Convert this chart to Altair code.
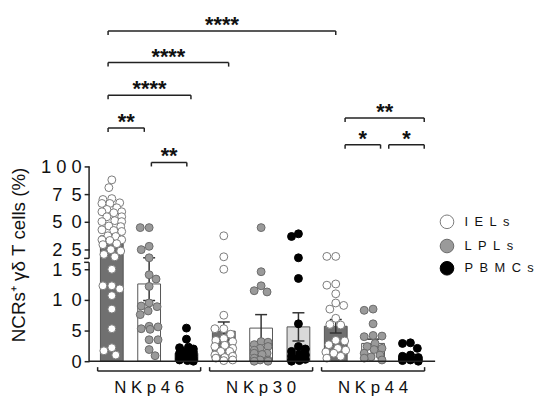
import altair as alt
import pandas as pd

# ---------------- data (percent of NCR+ gamma-delta T cells) ----------------
markers = ["NKp46", "NKp30", "NKp44"]
cells = ["IELs", "LPLs", "PBMCs"]

nkp46_iel = [88, 81, 71.1, 70.3, 66.7, 67.3, 66.7, 62.8, 61.3, 59.2, 58.3, 59.2, 54.7, 54.7,
             50.3, 51.2, 50.3, 46.4, 45.8, 42.9, 41.4, 42.3, 37.5, 36.9, 33.9, 33.3, 33.9,
             29.5, 30.4, 25, 24.2, 22.5, 21.3, 15, 12.3, 12.3, 11.8, 10.7, 8.5, 5.3, 2.2, 1.7, 1.0]
nkp46_lpl = [44.9, 44.9, 28, 25, 20.8, 14.1, 13.4, 12.2, 9.5, 9.0, 8.9, 8.2, 7.6, 5.7, 5.6,
             5.3, 5.2, 3.5, 3.5, 1.9, 0.9]
nkp46_pbmc = [5.4, 3.6, 2.3, 2.2, 2.0, 1.8, 1.6, 1.5, 1.3, 1.2, 1.0, 0.9, 0.8, 0.6, 0.5, 0.4,
              0.3, 0.2, 0.1, 0.0]
nkp30_iel = [37.5, 21.3, 15, 7.5, 5.3, 5.3, 4.4, 3.7, 3.4, 3.2, 2.6, 2.4, 2.1, 1.6, 1.6, 1.0,
             0.8, 0.6, 0.5, 0.2, 0.1]
nkp30_lpl = [44.9, 14.6, 12.3, 11.5, 11.3, 3.2, 3.1, 2.7, 2.4, 2.1, 1.8, 1.3, 1.3, 1.1, 0.5,
             0.2, 0.2, 0.0, 0.0]
nkp30_pbmc = [39.3, 36.9, 20.8, 13.5, 6.1, 2.4, 2.0, 1.6, 1.2, 1.0, 0.8, 0.5, 0.3, 0.2, 0.1, 0.0]
nkp44_iel = [21.5, 21.5, 12.6, 12.4, 11.0, 9.5, 9.1, 8.5, 7.0, 6.0, 5.9, 3.4, 3.3, 2.7, 2.1,
             1.8, 1.5, 1.3, 0.8, 0.5]
nkp44_lpl = [8.5, 8.3, 6.1, 4.2, 4.1, 4.0, 2.9, 2.4, 2.1, 1.9, 1.3, 1.0, 0.7, 0.5, 0.2]
nkp44_pbmc = [3.0, 2.9, 2.1, 1.0, 0.8, 0.6, 0.5, 0.4, 0.3, 0.2, 0.1, 0.0]

series = [nkp46_iel, nkp46_lpl, nkp46_pbmc, nkp30_iel, nkp30_lpl, nkp30_pbmc,
          nkp44_iel, nkp44_lpl, nkp44_pbmc]
swarm_width = [10, 9, 7, 9, 7, 7, 10, 9, 8]   # max horizontal spread (px) of each dot cloud

bar_mean = [37.5, 12.6, 1.3, 4.9, 5.4, 5.6, 5.7, 2.9, 0.8]
err_low = [35.0, 9.9, 1.0, 3.4, 3.2, 3.3, 4.6, 2.2, 0.5]
err_high = [40.0, 20.8, 1.6, 6.4, 7.6, 7.9, 6.8, 3.6, 1.1]
bar_fill = ["#707070", "white", "#d9d9d9"]
pt_fill = ["white", "#9a9a9a", "black"]
pt_stroke = ["#7a7a7a", "#6a6a6a", "black"]

# significance brackets: start/end position (bar index units), height (%), label
sig_start = [-0.1, -0.1, -0.1, -0.1, 1.06, 6.25, 6.25, 7.42]
sig_end = [6.0, 3.13, 2.12, 0.87, 2.01, 8.37, 7.2, 8.37]
sig_level = [53.87, 48.71, 43.39, 38.06, 32.42, 39.68, 35.32, 35.32]
sig_label = ["****", "****", "****", "**", "**", "**", "*", "*"]

y_ticks = [0, 5, 10, 15, 25, 50, 75, 100]

# ---------------- broken-axis transform ----------------
def disp(v):
    if v <= 15:
        return v
    if v >= 25:
        return 18.2 + (v - 25) * (1.12 / 6.2)
    return 15 + (v - 15) * (2.0 / 6.2)

PX_X, PX_Y = 37.75, 6.2
W, H = 350, 392
X0 = -0.6093
X1 = X0 + W / PX_X
Y1 = (363 - 8) / PX_Y
Y0 = Y1 - H / PX_Y
FONT = "Liberation Sans"

def swarm(vals, max_off=10, dmin=8.2):
    order = sorted(range(len(vals)), key=lambda i: -vals[i])
    placed, offs = [], [0.0] * len(vals)
    cands = [0]
    for k in range(1, max_off + 1):
        cands += [k, -k]
    flip = 1
    for i in order:
        yp = disp(vals[i]) * PX_Y
        best, bestpen = 0, 1e9
        for c in cands:
            c2 = c * flip
            pen = 0.0
            for xo, yo in placed:
                d = ((c2 - xo) ** 2 + (yp - yo) ** 2) ** 0.5
                if d < dmin:
                    pen += dmin - d
            if pen == 0:
                best = c2
                break
            if pen < bestpen - 1e-9:
                bestpen, best = pen, c2
        placed.append((best, yp))
        offs[i] = best
        flip = -flip
    return offs

rows = []
for idx, vals in enumerate(series):
    offs = swarm(vals, max_off=swarm_width[idx])
    for v, o in zip(vals, offs):
        k = idx % 3
        rows.append({"x": idx + o / PX_X, "y": disp(v), "cell": cells[k],
                     "fill": pt_fill[k], "stroke": pt_stroke[k]})
pts = pd.DataFrame(rows)

bars = pd.DataFrame({
    "x": [i - 0.305 for i in range(9)],
    "x2": [i + 0.305 for i in range(9)],
    "y": [0.0] * 9,
    "y2": [disp(m) for m in bar_mean],
    "fill": [bar_fill[i % 3] for i in range(9)],
})
errs = pd.DataFrame({
    "x": list(range(9)),
    "lo": [disp(v) for v in err_low],
    "hi": [disp(v) for v in err_high],
    "cx": [i - 0.16 for i in range(9)],
    "cx2": [i + 0.16 for i in range(9)],
})

# significance bracket geometry
tick_len = 0.65
sig_h = pd.DataFrame({"x": sig_start, "x2": sig_end, "y": sig_level})
sig_v = pd.DataFrame({
    "x": sig_start + sig_end,
    "y": sig_level + sig_level,
    "y2": [l - tick_len for l in sig_level] * 2,
})
sig_t = pd.DataFrame({"x": [(a + b) / 2 for a, b in zip(sig_start, sig_end)],
                      "y": sig_level, "t": sig_label})

# group brackets under axis
grp_c = [1, 4, 7]
gb_y, gb_tick = -1.61, -0.97
grp_h = pd.DataFrame({"x": [c - 1.38 for c in grp_c], "x2": [c + 1.38 for c in grp_c], "y": [gb_y] * 3})
grp_v = pd.DataFrame({"x": [c - 1.38 for c in grp_c] + [c + 1.38 for c in grp_c],
                      "y": [gb_y] * 6, "y2": [gb_tick] * 6})
grp_t = pd.DataFrame({"x": grp_c, "y": [-4.4] * 3, "t": [" ".join(m) for m in markers]})

# legend (drawn with marks, right of the plot)
leg = pd.DataFrame({
    "x": [8.98] * 3, "tx": [9.45] * 3,
    "y": [22.74, 18.79, 15.16],
    "t": [chr(0x2002).join(c) for c in cells],
    "fill": pt_fill, "stroke": pt_stroke,
})

# axis line segments (broken)
axis_seg = pd.DataFrame({"y": [0.0, 16.77], "y2": [16.13, disp(100)]})
brk = pd.DataFrame({"y": [16.13, 16.77]})
base = pd.DataFrame({"y": [0.0]})

xs = alt.Scale(domain=[X0, X1], nice=False, zero=False)
ys = alt.Scale(domain=[Y0, Y1], nice=False, zero=False)

def spaced(v):
    s = str(v)
    gap = " " if len(s) >= 3 else chr(0x2002)
    return gap.join(s)

tick_disp = [disp(v) for v in y_ticks]
label_expr = " : ".join(
    f"abs(datum.value - {d:.4f}) < 0.01 ? '{spaced(v)}'" for d, v in zip(tick_disp, y_ticks)
) + " : ''"

yaxis = alt.Axis(values=tick_disp, labelExpr=label_expr, domain=False, grid=False,
                 tickSize=5, tickWidth=1.5, tickColor="#222", labelFontSize=18.5, labelFont=FONT,
                 labelColor="#111", labelPadding=3, labelLimit=300, title="NCRs⁺ γδ T cells (%)",
                 titleFont=FONT, titleFontSize=19, titleFontWeight="normal", titleColor="#111",
                 titleX=-65, titleY=247, titleAlign="center", titleBaseline="alphabetic",
                 titleAngle=270)

LINE = "#222"

bar_layer = alt.Chart(bars).mark_bar(stroke="#555", strokeWidth=1).encode(
    x=alt.X("x:Q", scale=xs, axis=None), x2="x2:Q",
    y=alt.Y("y:Q", scale=ys, axis=yaxis), y2="y2:Q",
    fill=alt.Fill("fill:N", scale=None),
)
err_v = alt.Chart(errs).mark_rule(color="#333", strokeWidth=1.5).encode(
    x=alt.X("x:Q", scale=xs), y=alt.Y("lo:Q", scale=ys), y2="hi:Q")
err_cap_hi = alt.Chart(errs).mark_rule(color="#333", strokeWidth=1.5).encode(
    x=alt.X("cx:Q", scale=xs), x2="cx2:Q", y=alt.Y("hi:Q", scale=ys))
err_cap_lo = alt.Chart(errs).mark_rule(color="#333", strokeWidth=1.5).encode(
    x=alt.X("cx:Q", scale=xs), x2="cx2:Q", y=alt.Y("lo:Q", scale=ys))

pt_layer = alt.Chart(pts).mark_circle(size=64, opacity=1, strokeWidth=1).encode(
    x=alt.X("x:Q", scale=xs), y=alt.Y("y:Q", scale=ys),
    fill=alt.Fill("fill:N", scale=None),
    stroke=alt.Stroke("stroke:N", scale=None),
)

leg_pts = alt.Chart(leg).mark_circle(size=190, opacity=1, strokeWidth=1).encode(
    x=alt.X("x:Q", scale=xs), y=alt.Y("y:Q", scale=ys),
    fill=alt.Fill("fill:N", scale=None), stroke=alt.Stroke("stroke:N", scale=None))
leg_txt = alt.Chart(leg).mark_text(font=FONT, fontSize=13, align="left", baseline="middle",
                                   color="#111").encode(
    x=alt.X("tx:Q", scale=xs), y=alt.Y("y:Q", scale=ys), text="t:N")

axis_layer = alt.Chart(axis_seg).mark_rule(color=LINE, strokeWidth=1.5).encode(
    x=alt.value(0), y=alt.Y("y:Q", scale=ys), y2="y2:Q")
brk_layer = alt.Chart(brk).mark_rule(color=LINE, strokeWidth=1.5).encode(
    x=alt.value(-5), x2=alt.value(0), y=alt.Y("y:Q", scale=ys))
base_layer = alt.Chart(base).mark_rule(color=LINE, strokeWidth=1.5).encode(
    x=alt.value(0), x2=alt.value(W), y=alt.Y("y:Q", scale=ys))

sig_h_layer = alt.Chart(sig_h).mark_rule(color=LINE, strokeWidth=1.5).encode(
    x=alt.X("x:Q", scale=xs), x2="x2:Q", y=alt.Y("y:Q", scale=ys))
sig_v_layer = alt.Chart(sig_v).mark_rule(color=LINE, strokeWidth=1.5).encode(
    x=alt.X("x:Q", scale=xs), y=alt.Y("y:Q", scale=ys), y2="y2:Q")
sig_t_layer = alt.Chart(sig_t).mark_text(font=FONT, fontWeight="bold", fontSize=22,
                                         baseline="alphabetic", dy=1, color="#111").encode(
    x=alt.X("x:Q", scale=xs), y=alt.Y("y:Q", scale=ys), text="t:N")

grp_h_layer = alt.Chart(grp_h).mark_rule(color=LINE, strokeWidth=1.5).encode(
    x=alt.X("x:Q", scale=xs), x2="x2:Q", y=alt.Y("y:Q", scale=ys))
grp_v_layer = alt.Chart(grp_v).mark_rule(color=LINE, strokeWidth=1.5).encode(
    x=alt.X("x:Q", scale=xs), y=alt.Y("y:Q", scale=ys), y2="y2:Q")
grp_t_layer = alt.Chart(grp_t).mark_text(font=FONT, fontSize=17, baseline="middle",
                                         color="#111").encode(
    x=alt.X("x:Q", scale=xs), y=alt.Y("y:Q", scale=ys), text="t:N")

chart = alt.layer(
    bar_layer, err_v, err_cap_hi, err_cap_lo, pt_layer,
    axis_layer, brk_layer, base_layer,
    sig_h_layer, sig_v_layer, sig_t_layer,
    grp_h_layer, grp_v_layer, grp_t_layer,
    leg_pts, leg_txt,
).properties(
    width=W, height=H, autosize="none", background="white",
    padding={"left": 82, "top": 0, "right": 100, "bottom": 0},
).configure_view(stroke=None).configure_axis(labelFontSize=18.5, labelFont=FONT,
                                             titleFontSize=19, titleFont=FONT, labelLimit=300)

chart.save("out.html", embed_options={"renderer": "svg", "actions": False})
